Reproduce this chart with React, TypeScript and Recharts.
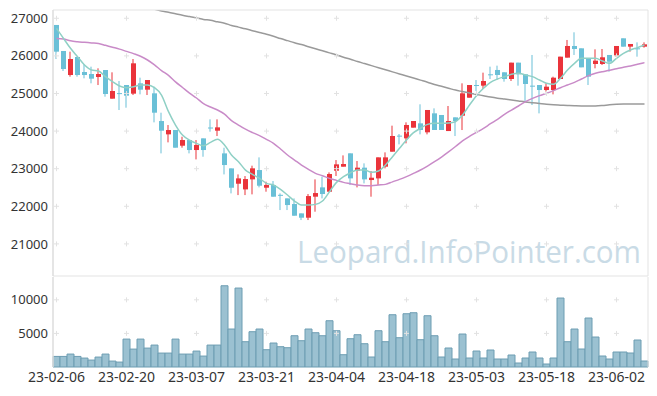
import React from "react";
import { ComposedChart, Bar, Line, XAxis, YAxis, ReferenceDot } from "recharts";

const dates = [
  "23-02-06", "23-02-07", "23-02-08", "23-02-09", "23-02-10", "23-02-13", "23-02-14", "23-02-15", "23-02-16", "23-02-17",
  "23-02-20", "23-02-21", "23-02-22", "23-02-23", "23-02-24", "23-02-27", "23-02-28", "23-03-02", "23-03-03", "23-03-06",
  "23-03-07", "23-03-08", "23-03-09", "23-03-10", "23-03-13", "23-03-14", "23-03-15", "23-03-16", "23-03-17", "23-03-20",
  "23-03-21", "23-03-22", "23-03-23", "23-03-24", "23-03-27", "23-03-28", "23-03-29", "23-03-30", "23-03-31", "23-04-03",
  "23-04-04", "23-04-05", "23-04-06", "23-04-07", "23-04-10", "23-04-11", "23-04-12", "23-04-13", "23-04-14", "23-04-17",
  "23-04-18", "23-04-19", "23-04-20", "23-04-21", "23-04-24", "23-04-25", "23-04-26", "23-04-27", "23-04-28", "23-05-02",
  "23-05-03", "23-05-04", "23-05-08", "23-05-09", "23-05-10", "23-05-11", "23-05-12", "23-05-15", "23-05-16", "23-05-17",
  "23-05-18", "23-05-19", "23-05-22", "23-05-23", "23-05-24", "23-05-25", "23-05-26", "23-05-30", "23-05-31", "23-06-01",
  "23-06-02", "23-06-05", "23-06-07", "23-06-08", "23-06-09",
];

const open = [
  26822, 26130, 25491, 25970, 25571, 25518, 25438, 25624, 24862, 25010,
  25225, 24995, 25270, 25101, 25004, 24267, 23913, 24028, 23611, 23762,
  23496, 23806, 24095, 24010, 23407, 23008, 22600, 22449, 22716, 22964,
  22494, 22565, 22305, 22210, 22060, 21811, 21696, 22255, 22503, 22388,
  22947, 23053, 23408, 22947, 23027, 22698, 22742, 23053, 23452, 23879,
  23807, 24091, 24206, 23967, 24472, 24428, 24001, 24365, 24409, 24888,
  25225, 25208, 25510, 25625, 25563, 25385, 25820, 25510, 25208, 25225,
  25092, 25092, 25385, 25953, 26263, 26201, 25935, 25784, 25784, 26024,
  26006, 26467, 26245, 26201, 26245,
];
const high = [
  26822, 26130, 26112, 25970, 25775, 25713, 25669, 25624, 25563, 25332,
  25225, 25917, 25420, 25358, 25181, 24489, 24161, 24028, 23850, 23762,
  23762, 23806, 24312, 24312, 23558, 23008, 22848, 22804, 23080, 23301,
  22654, 22672, 22343, 22210, 22210, 21811, 22326, 22716, 22787, 22902,
  23230, 23354, 23408, 23204, 23142, 22938, 23301, 23434, 24144, 23922,
  24233, 24268, 24712, 24561, 24605, 24428, 24667, 24365, 25270, 25225,
  25358, 25554, 25713, 25740, 25563, 25820, 25820, 25510, 26024, 25225,
  25270, 25447, 25979, 26423, 26627, 26201, 25935, 26174, 26183, 26024,
  26263, 26467, 26316, 26360, 26360,
];
const low = [
  25917, 25598, 25447, 25447, 25403, 25270, 25225, 24915, 24862, 24560,
  24622, 24959, 24977, 24959, 24232, 23407, 23700, 23558, 23558, 23407,
  23247, 23318, 23984, 23868, 22848, 22343, 22298, 22298, 22317, 22503,
  22388, 22255, 21900, 21900, 21749, 21634, 21634, 21856, 22210, 22388,
  22805, 23053, 22565, 22503, 22609, 22255, 22565, 23009, 23452, 23647,
  23674, 24091, 23913, 23913, 24029, 24029, 24001, 23868, 24028, 24888,
  25066, 25119, 25385, 25385, 25314, 25332, 25208, 24800, 24693, 24471,
  25048, 24977, 25385, 25953, 26024, 25695, 25225, 25669, 25758, 25580,
  25979, 26245, 26112, 25979, 26219,
];
const close = [
  26112, 25651, 25917, 25491, 25491, 25394, 25518, 24986, 25066, 25000,
  24942, 25802, 25101, 25358, 24489, 24010, 24028, 23558, 23762, 23496,
  23629, 23496, 24085, 24099, 23097, 22493, 22742, 22724, 23009, 22547,
  22565, 22255, 22295, 22033, 21749, 21696, 22272, 22352, 22326, 22858,
  23115, 23124, 22742, 23027, 22716, 22760, 23301, 23301, 23869, 23870,
  24162, 24268, 24029, 24561, 24029, 24029, 24268, 24268, 25004, 25225,
  25220, 25332, 25500, 25492, 25385, 25820, 25510, 25252, 25200, 25092,
  25181, 25420, 25979, 26263, 26183, 25695, 25447, 25873, 25962, 25846,
  26263, 26245, 26316, 26195, 26307,
];
const volume = [
  1577, 1577, 1924, 1577, 1330, 1032, 1478, 1924, 883, 734,
  4157, 2668, 4157, 2817, 3264, 2073, 2073, 4157, 1924, 1924,
  2371, 1627, 3264, 3264, 12097, 5654, 11755, 3765, 5253, 5654,
  2574, 3571, 3021, 2872, 4657, 3913, 5654, 5104, 4657, 6889,
  5401, 1830, 4211, 4806, 3467, 1488, 5401, 3765, 7782, 4360,
  7931, 8080, 4062, 7633, 4657, 1488, 2827, 1190, 4910, 1339,
  2381, 1339, 2530, 1190, 1190, 1786, 595, 1339, 2232, 1339,
  446, 1339, 10267, 3765, 5654, 2678, 7291, 4464, 1637, 1190,
  2232, 2232, 2083, 4018, 893,
];
const ma5 = [
  26733, 26467, 26201, 25979, 25757, 25624, 25598, 25447, 25314, 25199,
  25154, 25181, 25225, 25225, 25154, 24959, 24516, 24161, 23895, 23762,
  23673, 23611, 23700, 23780, 23629, 23363, 23185, 22963, 22850, 22742,
  22610, 22565, 22450, 22299, 22139, 22033, 22033, 22051, 22139, 22388,
  22636, 22787, 22893, 22964, 22964, 22902, 22938, 23097, 23319, 23541,
  23763, 23958, 24073, 24179, 24206, 24206, 24215, 24250, 24427, 24693,
  24942, 25137, 25296, 25385, 25447, 25509, 25536, 25492, 25447, 25358,
  25270, 25243, 25403, 25625, 25802, 25935, 25935, 25935, 25864, 25802,
  25935, 26068, 26157, 26219, 26290,
];
const ma20 = [
  26465, 26450, 26400, 26375, 26360, 26345, 26330, 26280, 26230, 26180,
  26120, 26060, 25990, 25890, 25760, 25610, 25480, 25310, 25160, 25010,
  24880, 24730, 24640, 24560, 24450, 24280, 24161, 24050, 23960, 23880,
  23780, 23674, 23523, 23363, 23230, 23097, 22982, 22876, 22813, 22743,
  22689, 22636, 22601, 22565, 22547, 22547, 22565, 22583, 22650, 22715,
  22790, 22875, 22965, 23070, 23185, 23310, 23445, 23590, 23740, 23860,
  23966, 24072, 24196, 24312, 24445, 24560, 24667, 24782, 24870, 24942,
  25004, 25075, 25154, 25225, 25296, 25385, 25474, 25536, 25580, 25616,
  25660, 25696, 25731, 25775, 25820,
];
const ma60 = [
  null, null, null, null, null, null, null, null, null, null,
  null, null, null, 27290, 27240, 27195, 27160, 27120, 27080, 27045,
  27010, 26970, 26945, 26905, 26870, 26810, 26765, 26720, 26670, 26620,
  26575, 26520, 26460, 26405, 26350, 26300, 26245, 26190, 26135, 26080,
  26025, 25965, 25910, 25850, 25795, 25740, 25685, 25630, 25575, 25520,
  25465, 25410, 25355, 25300, 25240, 25190, 25140, 25090, 25050, 25010,
  24975, 24940, 24905, 24875, 24850, 24825, 24800, 24775, 24755, 24735,
  24715, 24700, 24690, 24680, 24672, 24667, 24667, 24668, 24680, 24700,
  24712, 24718, 24720, 24720, 24720,
];

const priceTicks = [21000, 22000, 23000, 24000, 25000, 26000, 27000];
const volumeTicks = [5000, 10000];

const UP = "#ea343b";
const DOWN = "#6ac0d7";
const FRAME = "#e3e3e3";
const FONT = "'Noto Sans', sans-serif";

const rows = dates.map((date, i) => ({
  date,
  open: open[i],
  high: high[i],
  low: low[i],
  close: close[i],
  range: [low[i], high[i]],
  volume: volume[i],
  ma5: ma5[i],
  ma20: ma20[i],
  ma60: ma60[i],
}));

const gridDates = dates.filter((_, i) => i % 10 === 0);

function Candle(props: any) {
  const { x, y, width, height, payload } = props;
  const { open: o, close: c, high: h, low: l } = payload;
  const color = c > o ? UP : DOWN;
  const k = height / (h - l);
  const top = y + (h - Math.max(o, c)) * k;
  const bottom = y + (h - Math.min(o, c)) * k;
  const mid = Math.floor(x + width / 2);
  return (
    <g>
      <rect x={mid - 0.5} y={y} width={1} height={height} fill={color} />
      <rect x={x + 1} y={top} width={width - 2} height={Math.max(1, bottom - top)} fill={color} />
    </g>
  );
}

function Plus(props: any) {
  const { cx, cy } = props;
  return (
    <g stroke="#e2e2e2" strokeWidth={1}>
      <line x1={cx - 2.5} y1={cy} x2={cx + 2.5} y2={cy} />
      <line x1={cx} y1={cy - 2.5} x2={cx} y2={cy + 2.5} />
    </g>
  );
}

const tickStyle = { fill: "#333", fontSize: 13, fontFamily: FONT };

export default function App() {
  return (
    <div style={{ position: "absolute", left: 0, top: 0, width: 657, height: 396, background: "#fff", fontFamily: FONT }}>
      <svg width={657} height={396} style={{ position: "absolute", left: 0, top: 0 }}>
        <text
          x={297}
          y={263}
          fontSize={31}
          fontFamily="'Open Sans', sans-serif"
          fill="#c9dbe6"
          textLength={344}
          lengthAdjust="spacingAndGlyphs"
        >
          Leopard.InfoPointer.com
        </text>
      </svg>

      <div style={{ position: "absolute", left: 0, top: 0 }}>
        <ComposedChart width={657} height={278} data={rows} margin={{ top: 0, right: 0, bottom: 0, left: 0 }} barCategoryGap={0} barGap={0}>
          <XAxis dataKey="date" height={2} tick={false} tickLine={false} axisLine={{ stroke: FRAME }} />
          <XAxis xAxisId="top" dataKey="date" orientation="top" height={10} tick={false} tickLine={false} axisLine={{ stroke: FRAME }} />
          <YAxis
            domain={[20146, 27220]}
            ticks={priceTicks}
            allowDataOverflow
            width={53}
            tickLine={false}
            tickSize={3}
            tickMargin={2}
            axisLine={{ stroke: "#dcdcdc", strokeWidth: 1.5 }}
            tick={tickStyle}
          />
          <YAxis yAxisId="r" orientation="right" width={9} domain={[0, 1]} tick={false} tickLine={false} axisLine={{ stroke: FRAME }} />
          {gridDates.map((d) =>
            priceTicks.map((t) => <ReferenceDot key={d + t} x={d} y={t} r={3} shape={Plus} />)
          )}
          <Bar dataKey="range" shape={Candle} isAnimationActive={false} />
          <Line type="monotone" dataKey="ma60" stroke="#9a9a9a" strokeWidth={1.5} dot={false} activeDot={false} isAnimationActive={false} />
          <Line type="monotone" dataKey="ma20" stroke="#c98bc8" strokeWidth={1.5} dot={false} activeDot={false} isAnimationActive={false} />
          <Line type="monotone" dataKey="ma5" stroke="#8fd0c5" strokeWidth={1.5} dot={false} activeDot={false} isAnimationActive={false} />
        </ComposedChart>
      </div>

      <div style={{ position: "absolute", left: 0, top: 277 }}>
        <ComposedChart width={657} height={119} data={rows} margin={{ top: 0, right: 0, bottom: 0, left: 0 }} barCategoryGap={0} barGap={0}>
          <XAxis
            dataKey="date"
            height={29}
            interval={9}
            tickLine={false}
            axisLine={false}
            tickSize={3}
            tickMargin={2}
            tick={{ ...tickStyle, fontSize: 14 }}
          />
          <YAxis
            domain={[0, 13400]}
            ticks={volumeTicks}
            width={53}
            tickLine={false}
            tickSize={3}
            tickMargin={2}
            axisLine={{ stroke: "#dcdcdc", strokeWidth: 1.5 }}
            tick={tickStyle}
          />
          <YAxis yAxisId="r" orientation="right" width={9} domain={[0, 1]} tick={false} tickLine={false} axisLine={{ stroke: FRAME }} />
          {gridDates.map((d) =>
            volumeTicks.map((t) => <ReferenceDot key={d + t} x={d} y={t} r={3} shape={Plus} />)
          )}
          <Bar dataKey="volume" fill="#9bc1d1" stroke="#6d9db2" strokeWidth={1} isAnimationActive={false} />
        </ComposedChart>
      </div>
    </div>
  );
}
